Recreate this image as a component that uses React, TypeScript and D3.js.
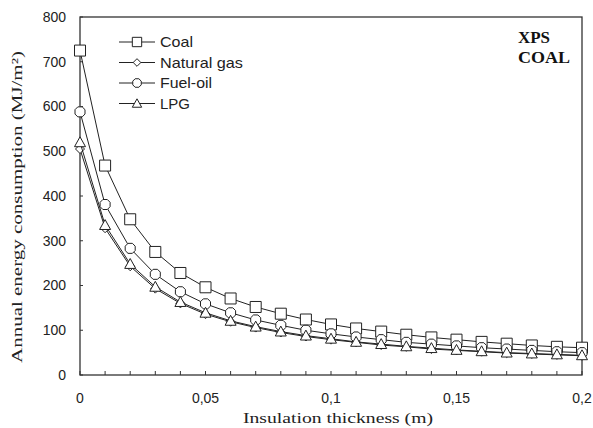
import React from "react";
import * as d3 from "d3";

const thickness = [0, 0.01, 0.02, 0.03, 0.04, 0.05, 0.06, 0.07, 0.08, 0.09, 0.1, 0.11, 0.12, 0.13, 0.14, 0.15, 0.16, 0.17, 0.18, 0.19, 0.2];
const coal = [725, 468, 348, 275, 228, 196, 171, 152, 137, 124, 113, 104, 97, 90, 84, 79, 74, 70, 66, 63, 61];
const naturalGas = [505, 328, 243, 193, 160, 136, 119, 106, 95, 86, 79, 73, 67, 63, 58, 55, 52, 49, 47, 45, 43];
const fuelOil = [588, 381, 283, 225, 186, 159, 139, 123, 111, 100, 92, 85, 79, 73, 69, 65, 61, 58, 55, 52, 50];
const lpg = [520, 335, 248, 197, 163, 139, 121, 108, 97, 88, 81, 74, 69, 64, 60, 56, 53, 50, 48, 46, 44];
const yTicks = [0, 100, 200, 300, 400, 500, 600, 700, 800];
const xTicks = [0, 0.05, 0.1, 0.15, 0.2];

const series = [
  { name: "Coal", values: coal, marker: "square", len: 33 },
  { name: "Natural gas", values: naturalGas, marker: "diamond", len: 83 },
  { name: "Fuel-oil", values: fuelOil, marker: "octagon", len: 52 },
  { name: "LPG", values: lpg, marker: "triangle", len: 30 },
];

const W = 593, H = 428;
const m = { left: 80, right: 11, top: 17, bottom: 53 };
const sans = "'Liberation Sans', Arial, sans-serif";
const serif = "'Liberation Serif', 'Times New Roman', serif";

function markerPath(type: string, x: number, y: number, k = 1) {
  if (type === "square") {
    const s = 5.5 * k;
    return `M${x - s},${y - s}h${2 * s}v${2 * s}h${-2 * s}Z`;
  }
  if (type === "diamond") {
    const s = 4.5 * k;
    return `M${x},${y - s}L${x + s},${y}L${x},${y + s}L${x - s},${y}Z`;
  }
  if (type === "octagon") {
    const r = 5 * k, a = 2.2 * k;
    return `M${x - a},${y - r}L${x + a},${y - r}L${x + r},${y - a}L${x + r},${y + a}L${x + a},${y + r}L${x - a},${y + r}L${x - r},${y + a}L${x - r},${y - a}Z`;
  }
  const s = 5.5 * k;
  return `M${x},${y - s}L${x + s},${y + s * 0.8}L${x - s},${y + s * 0.8}Z`;
}

export default function App() {
  const x = d3.scaleLinear().domain([0, 0.2]).range([m.left, W - m.right]);
  const y = d3.scaleLinear().domain([0, 800]).range([H - m.bottom, m.top]);
  const line = d3.line<number>().x((_, i) => x(thickness[i])).y((d) => y(d));
  const fmt = (v: number) => (v === 0 ? "0" : String(v).replace(".", ","));

  return (
    <svg width={W} height={H} style={{ display: "block", position: "absolute", left: 0, top: 0, background: "#fff" }}>
      <rect x={m.left} y={m.top} width={W - m.left - m.right} height={H - m.top - m.bottom} fill="none" stroke="#333" strokeWidth={1.3} />
      {thickness.map((t) => (
        <line key={t} x1={x(t)} x2={x(t)} y1={y(0)} y2={y(0) - 4} stroke="#333" />
      ))}
      {yTicks.map((t) => (
        <line key={t} x1={m.left} x2={m.left + 3} y1={y(t)} y2={y(t)} stroke="#333" />
      ))}
      {yTicks.map((t) => (
        <text key={t} x={66} y={y(t)} dy="0.35em" textAnchor="end" fontFamily={sans} fontSize={14} fill="#222">{t}</text>
      ))}
      {xTicks.map((t) => (
        <text key={t} x={x(t)} y={398} dy="0.35em" textAnchor="middle" fontFamily={sans} fontSize={14} fill="#222">{fmt(t)}</text>
      ))}
      <text x={338} y={423} textAnchor="middle" fontFamily={serif} fontSize={15} textLength={190} lengthAdjust="spacingAndGlyphs" fill="#222">Insulation thickness (m)</text>
      <text transform={`translate(22,207) rotate(-90)`} textAnchor="middle" fontFamily={serif} fontSize={15} textLength={312} lengthAdjust="spacingAndGlyphs" fill="#222">Annual energy consumption (MJ/m²)</text>
      {series.map((s) => (
        <g key={s.name}>
          <path d={line(s.values) || ""} fill="none" stroke="#222" strokeWidth={1} />
          {s.values.map((v, i) => (
            <path key={i} d={markerPath(s.marker, x(thickness[i]), y(v))} fill="#fff" stroke="#222" strokeWidth={1} />
          ))}
        </g>
      ))}
      {series.map((s, i) => {
        const ly = 42 + i * 20.5;
        return (
          <g key={s.name}>
            <line x1={119} x2={155} y1={ly} y2={ly} stroke="#222" />
            <path d={markerPath(s.marker, 137, ly, 0.85)} fill="#fff" stroke="#222" />
            <text x={160} y={ly} dy="0.35em" fontFamily={sans} fontSize={15} textLength={s.len} lengthAdjust="spacingAndGlyphs" fill="#222">{s.name}</text>
          </g>
        );
      })}
      <text x={518} y={43} fontFamily={serif} fontWeight="bold" fontSize={16} textLength={32} lengthAdjust="spacingAndGlyphs" fill="#111">XPS</text>
      <text x={518} y={63} fontFamily={serif} fontWeight="bold" fontSize={16} textLength={52} lengthAdjust="spacingAndGlyphs" fill="#111">COAL</text>
    </svg>
  );
}
